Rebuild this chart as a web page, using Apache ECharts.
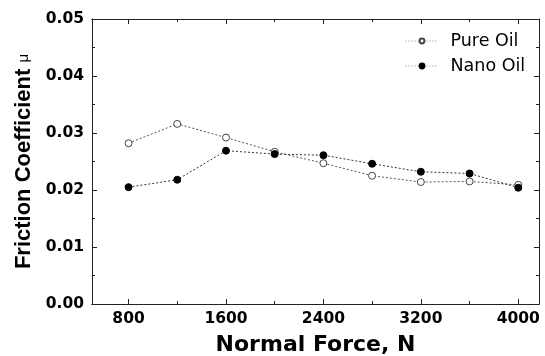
<!DOCTYPE html>
<html><head><meta charset="utf-8">
<script src="https://cdn.jsdelivr.net/npm/echarts@6/dist/echarts.min.js"></script>
<style>html,body{margin:0;padding:0;background:#fff}#c{width:545px;height:356px}</style>
</head><body><div id="c"></div>
<script>
const forces = [800, 1200, 1600, 2000, 2400, 2800, 3200, 3600, 4000];
const pureOil = [0.0282, 0.0316, 0.0292, 0.0267, 0.0247, 0.0225, 0.0214, 0.0215, 0.0209];
const nanoOil = [0.0205, 0.0218, 0.0269, 0.0263, 0.0261, 0.0246, 0.0232, 0.0229, 0.0204];
const xMajor = [800, 1600, 2400, 3200, 4000];
const xMinor = [1200, 2000, 2800, 3600];

const FW = '"DejaVu Sans", sans-serif';
const FA = '"Liberation Sans", Arial, sans-serif';
const axisColor = '#222';
const xBase = {type: 'value', min: 500, max: 4170, splitLine: {show: false},
  axisLine: {show: true, onZero: false, lineStyle: {color: axisColor, width: 1}}};
const chart = echarts.init(document.getElementById('c'));
chart.setOption({
  animation: false,
  grid: {left: 92, right: 6, top: 19, bottom: 52, containLabel: false, outerBoundsMode: 'none'},
  legend: {
    left: 400, top: 27, orient: 'vertical', itemGap: 7, itemWidth: 33, itemHeight: 6,
    textStyle: {fontFamily: FW, fontSize: 17.5, color: '#000', padding: [0, 0, 0, 7]},
    lineStyle: {color: '#888', width: 1, type: [1, 2]},
    data: ['Pure Oil', 'Nano Oil']
  },
  xAxis: [
    Object.assign({}, xBase, {position: 'bottom',
      name: 'Normal Force, N', nameLocation: 'middle', nameGap: 30,
      nameTextStyle: {fontFamily: FW, fontSize: 22, fontWeight: 'bold', color: '#000'},
      axisTick: {inside: true, length: 5, customValues: xMajor, lineStyle: {color: axisColor}},
      axisLabel: {customValues: xMajor, fontFamily: FW, fontSize: 15.5, fontWeight: 'bold', color: '#000', margin: 7,
        formatter: v => String(v)}}),
    Object.assign({}, xBase, {position: 'bottom',
      axisTick: {inside: true, length: 3, customValues: xMinor, lineStyle: {color: axisColor}},
      axisLabel: {show: false}}),
    Object.assign({}, xBase, {position: 'top',
      axisTick: {inside: true, length: 5, customValues: xMajor, lineStyle: {color: axisColor}},
      axisLabel: {show: false}}),
    Object.assign({}, xBase, {position: 'top',
      axisTick: {inside: true, length: 3, customValues: xMinor, lineStyle: {color: axisColor}},
      axisLabel: {show: false}})
  ],
  yAxis: [
    {type: 'value', min: 0, max: 0.05, interval: 0.01, position: 'left',
      name: '{b|Friction Coefficient }{m|\u03bc}', nameLocation: 'middle', nameGap: 56,
      nameTextStyle: {color: '#000',
        rich: {b: {fontFamily: FA, fontSize: 22, fontWeight: 'bold', color: '#000'},
               m: {fontFamily: FA, fontSize: 15, color: '#000'}}},
      splitLine: {show: false},
      axisLine: {show: true, lineStyle: {color: axisColor}},
      axisTick: {inside: true, length: 5, lineStyle: {color: axisColor}},
      minorTick: {show: true, splitNumber: 2, length: 3, lineStyle: {color: axisColor}},
      axisLabel: {fontFamily: FW, fontSize: 15.5, fontWeight: 'bold', color: '#000', margin: 8,
        formatter: v => v.toFixed(2)}},
    {type: 'value', min: 0, max: 0.05, interval: 0.01, position: 'right',
      splitLine: {show: false},
      axisLine: {show: true, lineStyle: {color: axisColor}},
      axisTick: {inside: true, length: 5, lineStyle: {color: axisColor}},
      minorTick: {show: true, splitNumber: 2, length: 3, lineStyle: {color: axisColor}},
      axisLabel: {show: false}}
  ],
  series: [
    {name: 'Pure Oil', type: 'line', xAxisIndex: 0, yAxisIndex: 0,
      data: forces.map((f, i) => [f, pureOil[i]]),
      symbol: 'circle', symbolSize: 7,
      itemStyle: {color: '#fff', borderColor: '#444', borderWidth: 1},
      lineStyle: {color: '#555', width: 1, type: [2, 2]}},
    {name: 'Nano Oil', type: 'line', xAxisIndex: 0, yAxisIndex: 0,
      data: forces.map((f, i) => [f, nanoOil[i]]),
      symbol: 'circle', symbolSize: 7,
      itemStyle: {color: '#000', borderColor: '#000', borderWidth: 1},
      lineStyle: {color: '#333', width: 1, type: [2, 2]}}
  ]
});
</script></body></html>
